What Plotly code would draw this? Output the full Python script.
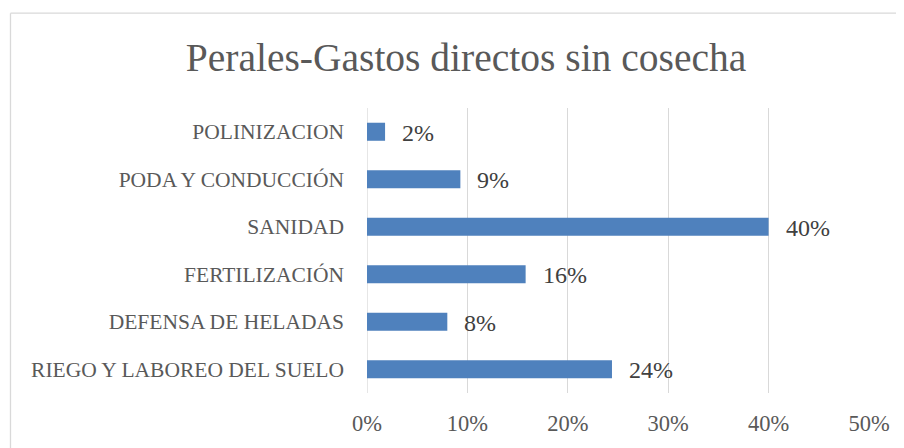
import plotly.graph_objects as go

categories = ["RIEGO Y LABOREO DEL SUELO", "DEFENSA DE HELADAS", "FERTILIZACIÓN",
              "SANIDAD", "PODA Y CONDUCCIÓN", "POLINIZACION"]
values = [0.244, 0.08, 0.158, 0.40, 0.093, 0.018]
labels = ["24%", "8%", "16%", "40%", "9%", "2%"]
tick_vals = [0, 0.1, 0.2, 0.3, 0.4, 0.5]
tick_text = ["0%", "10%", "20%", "30%", "40%", "50%"]

FONT = "Liberation Serif"
OFF = 8  # page body margin
W, H = 904 - OFF, 448 - OFF
L = 367 - OFF
R = W - (869 - OFF)
T = 108 - OFF
B = H - (395 - OFF)
pw, ph = W - L - R, H - T - B

fig = go.Figure(go.Bar(
    y=categories, x=values, orientation="h",
    marker=dict(color="#4f81bd", line=dict(width=0)),
    hoverinfo="skip",
))

for c, v, t in zip(categories, values, labels):
    fig.add_annotation(x=v, y=c, text=t, showarrow=False, xanchor="left",
                       xshift=15, yshift=-1,
                       font=dict(family=FONT, size=24, color="#404040"))

def px2x(px):
    return (px - OFF - L) / pw

def px2y(py):
    return (H - B - (py - OFF)) / ph

border = dict(color="#d9d9d9", width=1.3)
# top and left edges of the chart frame
fig.add_shape(type="line", xref="paper", yref="paper",
              x0=px2x(10.5), x1=px2x(960), y0=px2y(12.5), y1=px2y(12.5),
              line=border, layer="below")
fig.add_shape(type="line", xref="paper", yref="paper",
              x0=px2x(10.5), x1=px2x(10.5), y0=px2y(12.5), y1=px2y(500),
              line=border, layer="below")

fig.update_layout(
    width=W, height=H,
    margin=dict(l=L, r=R, t=T, b=B, pad=0),
    paper_bgcolor="white", plot_bgcolor="white",
    bargap=0.62,
    showlegend=False,
    title=dict(text="Perales-Gastos directos sin cosecha",
               x=(466 - OFF) / W, xref="container", xanchor="center",
               y=1 - (57 - OFF) / H, yanchor="middle",
               font=dict(family=FONT, size=39.5, color="#595959")),
    xaxis=dict(range=[0, 0.5], tickvals=tick_vals, ticktext=tick_text,
               showgrid=True, gridcolor="#d9d9d9", gridwidth=1.3,
               zeroline=False, showline=False, ticks="",
               tickfont=dict(family=FONT, size=22.5, color="#595959"),
               ticklabelstandoff=14, fixedrange=True),
    yaxis=dict(showgrid=False, zeroline=False, showline=False, ticks="",
               tickfont=dict(family=FONT, size=21.5, color="#595959"),
               ticklabelstandoff=22, fixedrange=True),
)
fig.add_vline(x=0, line=dict(color="#d9d9d9", width=1.3), layer="below")

fig.write_html("out.html")
